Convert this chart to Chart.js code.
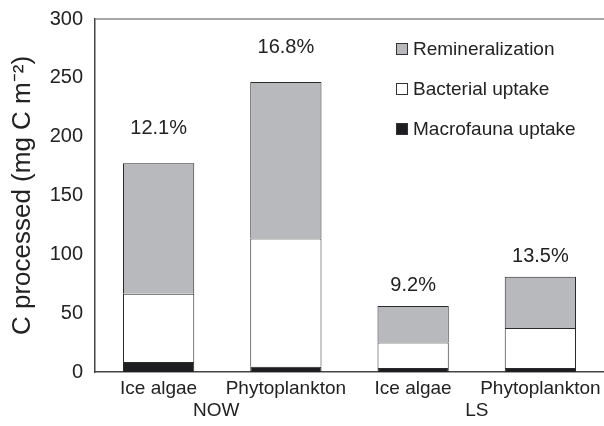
<!DOCTYPE html>
<html>
<head>
<meta charset="utf-8">
<script src="https://cdn.jsdelivr.net/npm/chart.js@4"></script>
<style>
html,body{margin:0;padding:0;background:#fff;}
#wrap{width:604px;height:426px;}
</style>
</head>
<body>
<div id="wrap"><canvas id="chart" width="604" height="426"></canvas></div>
<script>
// categories and groups
const categories=["Ice algae","Phytoplankton","Ice algae","Phytoplankton"];
const groups=["NOW","LS"];

// stacked segment values (mg C m-2)
const macrofauna=[8.5,4.5,3.5,3.5];
const bacterial=[58,109,21.5,34];
const remineralization=[111,133,31,43.5];

// percent labels above bars
const percents=["12.1%","16.8%","9.2%","13.5%"];
const pctOffset=[35,34,21,20];
const groupShift=[-6,0];

const yTicks=[0,50,100,150,200,250,300];

const FONT="'Liberation Sans', Arial, sans-serif";
const TEXT="#222";

const legendItems=[
{label:"Remineralization",color:"#b8b9bc"},
{label:"Bacterial uptake",color:"#ffffff"},
{label:"Macrofauna uptake",color:"#1e1e22"}
];

const extras={
id:"extras",
afterDraw(chart){
const ctx=chart.ctx;
const area=chart.chartArea;
const x=chart.scales.x;
const y=chart.scales.y;
ctx.save();

// top frame line
ctx.strokeStyle="#888";
ctx.lineWidth=1.5;
ctx.beginPath();
ctx.moveTo(area.left,area.top);
ctx.lineTo(604,area.top);
ctx.stroke();

ctx.fillStyle=TEXT;
ctx.font="20px "+FONT;
ctx.textAlign="center";
ctx.textBaseline="middle";

// percent labels
percents.forEach((p,i)=>{
const total=macrofauna[i]+bacterial[i]+remineralization[i];
ctx.fillText(p,x.getPixelForValue(i),y.getPixelForValue(total)-pctOffset[i]);
});

// group labels
ctx.font="19px "+FONT;
groups.forEach((g,k)=>{
const cx=(x.getPixelForValue(k*2)+x.getPixelForValue(k*2+1))/2;
ctx.fillText(g,cx+groupShift[k],411);
});

// legend
ctx.textAlign="left";
legendItems.forEach((it,i)=>{
const ly=49+i*40;
ctx.fillStyle=it.color;
ctx.fillRect(396,ly-6,12,12);
ctx.strokeStyle="#333";
ctx.lineWidth=1;
ctx.strokeRect(396.5,ly-5.5,11,11);
ctx.fillStyle=TEXT;
ctx.fillText(it.label,413,ly+1);
});

ctx.restore();
}
};

new Chart(document.getElementById("chart"),{
type:"bar",
data:{
labels:categories,
datasets:[
{label:"Macrofauna uptake",data:macrofauna,backgroundColor:"#1e1e22",borderColor:"#2a2a2a",borderWidth:1},
{label:"Bacterial uptake",data:bacterial,backgroundColor:"#ffffff",borderColor:"#2a2a2a",borderWidth:1},
{label:"Remineralization",data:remineralization,backgroundColor:"#b8b9bc",borderColor:"#2a2a2a",borderWidth:1}
]
},
plugins:[extras],
options:{
responsive:false,
animation:false,
layout:{padding:{top:19,right:0,left:0,bottom:0}},
plugins:{legend:{display:false},tooltip:{enabled:false}},
datasets:{bar:{barPercentage:0.56,categoryPercentage:1}},
scales:{
x:{
stacked:true,
grid:{display:false,drawTicks:false},
border:{color:"#444",width:1.5},
ticks:{color:TEXT,font:{family:FONT,size:19},padding:5,maxRotation:0},
afterFit(s){s.height=54;s.paddingLeft=0;s.paddingRight=0;}
},
y:{
stacked:true,
min:0,max:300,
afterBuildTicks(s){s.ticks=yTicks.map(v=>({value:v}));},
grid:{display:false,drawTicks:false},
border:{color:"#444",width:1.5},
ticks:{color:TEXT,font:{family:FONT,size:20},padding:12},
title:{display:true,text:"C processed (mg C m\u207B\u00B2)",color:TEXT,font:{family:FONT,size:26},padding:{top:7,bottom:0}},
afterFit(s){s.width=95;s.paddingTop=0;s.paddingBottom=0;}
}
}
}
});
</script>
</body>
</html>
